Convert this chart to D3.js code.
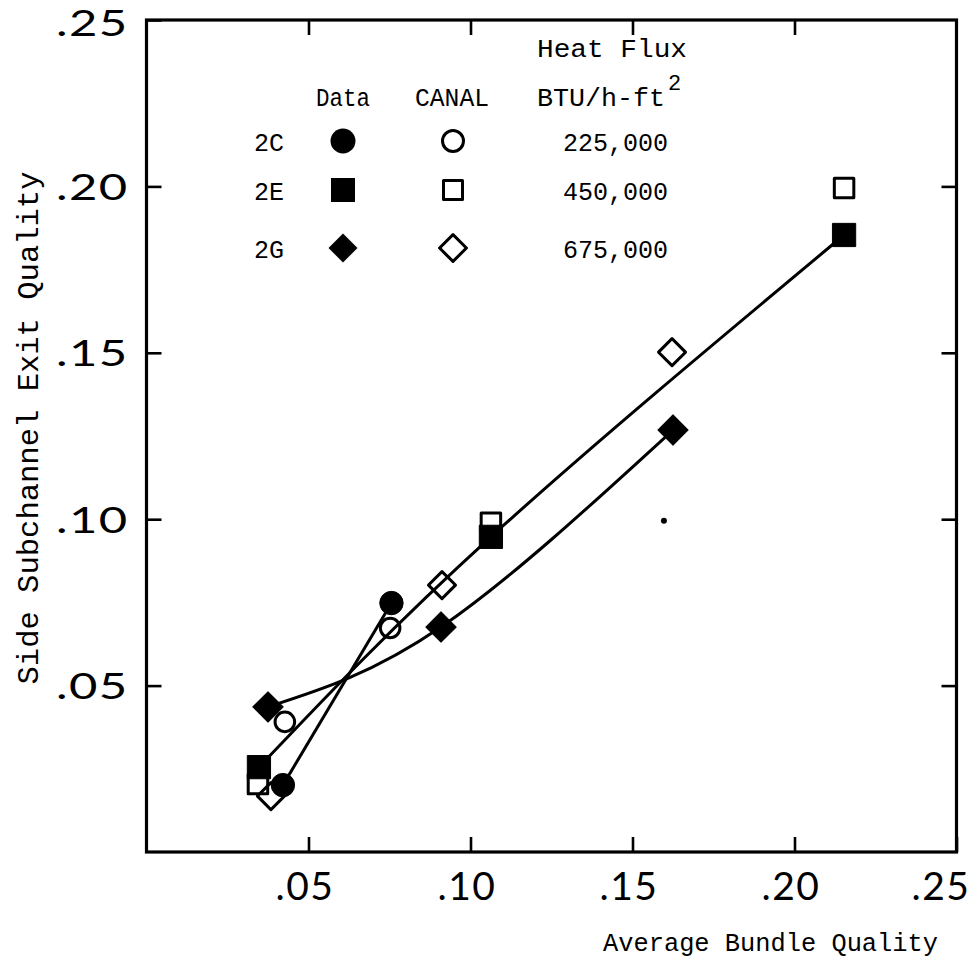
<!DOCTYPE html>
<html>
<head>
<meta charset="utf-8">
<script src="https://cdn.jsdelivr.net/npm/d3@7"></script>
<style>
  html, body { margin: 0; padding: 0; background: #fff; }
  svg { display: block; }
</style>
</head>
<body>
<svg id="chart" width="980" height="964"></svg>
<script>
// ---------- data ----------
const tickValues = [0.05, 0.10, 0.15, 0.20, 0.25];
const tickLabels = [".05", ".10", ".15", ".20", ".25"];

const seriesNames = ["2C", "2E", "2G"];
const heatFluxLabels = ["225,000", "450,000", "675,000"];

// measured (Data) and calculated (CANAL) points: [average bundle quality, side subchannel exit quality]
const data2C  = [[0.0421, 0.0201], [0.0756, 0.0748]];
const canal2C = [[0.0427, 0.0391], [0.0752, 0.0673]];
const data2E  = [[0.0347, 0.0255], [0.1063, 0.0947], [0.2153, 0.1854]];
const canal2E = [[0.0344, 0.0204], [0.1063, 0.0989], [0.2153, 0.1995]];
const data2G  = [[0.0375, 0.0436], [0.0909, 0.0676], [0.1625, 0.1268]];
const canal2G = [[0.0384, 0.0168], [0.0912, 0.0802], [0.1622, 0.1502]];

// stray specks on the original sheet
const specks = [[0.1597, 0.0995]];

// ---------- drawing ----------
const svg = d3.select("#chart");
const frame = { left: 146.5, right: 956.5, top: 20, bottom: 852 };

const x = d3.scaleLinear().domain([0, 0.25]).range([frame.left, frame.right]);
const y = d3.scaleLinear().domain([0, 0.25]).range([frame.bottom, frame.top]);

const mono = "'Liberation Mono', 'DejaVu Sans Mono', monospace";
const tickFont = "Lato, 'Noto Sans', sans-serif";
const fmt = d => tickLabels[tickValues.indexOf(d)];

// frame
svg.append("rect")
  .attr("x", frame.left).attr("y", frame.top)
  .attr("width", frame.right - frame.left).attr("height", frame.bottom - frame.top)
  .attr("fill", "none").attr("stroke", "#000").attr("stroke-width", 3.2);

function styleAxis(g) {
  g.select(".domain").remove();
  g.selectAll(".tick line").attr("stroke", "#000").attr("stroke-width", 2.6);
}

// bottom axis with labels
const gx = svg.append("g").attr("transform", `translate(0,${frame.bottom})`)
  .call(d3.axisBottom(x).tickValues(tickValues).tickSize(-15).tickFormat(fmt));
styleAxis(gx);
gx.selectAll(".tick text")
  .attr("y", 48).attr("dy", 0).attr("dx", d => d === 0.25 ? -16 : -4)
  .attr("font-family", tickFont).attr("font-size", 39).attr("letter-spacing", 1.5).attr("fill", "#000");

// top axis ticks only
const gxt = svg.append("g").attr("transform", `translate(0,${frame.top})`)
  .call(d3.axisTop(x).tickValues(tickValues.slice(0, 4)).tickSize(-15).tickFormat(""));
styleAxis(gxt);

// left axis with labels (horizontally stretched, as on the original)
const gy = svg.append("g").attr("transform", `translate(${frame.left},0)`)
  .call(d3.axisLeft(y).tickValues(tickValues).tickSize(-15).tickFormat(fmt));
styleAxis(gy);
gy.selectAll(".tick text")
  .attr("x", 0)
  .attr("transform", "translate(-18,0) scale(1.36,1)")
  .attr("dy", d => d === 0.25 ? "0.44em" : "0.36em")
  .attr("font-family", tickFont).attr("font-size", 36).attr("letter-spacing", 1).attr("fill", "#000");

// right axis ticks only
const gyr = svg.append("g").attr("transform", `translate(${frame.right},0)`)
  .call(d3.axisRight(y).tickValues(tickValues.slice(0, 4)).tickSize(-15).tickFormat(""));
styleAxis(gyr);

// axis titles
svg.append("text")
  .attr("x", 938).attr("y", 951).attr("text-anchor", "end")
  .attr("font-family", mono).attr("font-size", 26)
  .attr("textLength", 335).attr("lengthAdjust", "spacingAndGlyphs")
  .text("Average Bundle Quality");

svg.append("text")
  .attr("transform", "translate(38,428) rotate(-90)")
  .attr("text-anchor", "middle")
  .attr("font-family", mono).attr("font-size", 29)
  .attr("textLength", 513).attr("lengthAdjust", "spacingAndGlyphs")
  .text("Side Subchannel Exit Quality");

// fitted lines through the measured data
const lineGen = d3.line().x(d => x(d[0])).y(d => y(d[1])).curve(d3.curveNatural);
[data2C, data2E, data2G].forEach(s => {
  svg.append("path").attr("d", lineGen(s))
    .attr("fill", "none").attr("stroke", "#000").attr("stroke-width", 3);
});

// markers
const shapes = [d3.symbolCircle, d3.symbolSquare, d3.symbolSquare];
const rotations = [0, 0, 45];
const filledSize = [430, 540, 460];
const openSize = [300, 380, 365];

function drawMarkers(points, k, filled, sizeArr) {
  svg.append("g").selectAll("path").data(points).join("path")
    .attr("transform", d => `translate(${x(d[0])},${y(d[1])}) rotate(${rotations[k]})`)
    .attr("d", d3.symbol().type(shapes[k]).size(sizeArr[k]))
    .attr("fill", filled ? "#000" : "none")
    .attr("stroke", "#000")
    .attr("stroke-width", filled ? 1 : 3)
    .attr("stroke-linejoin", "round");
}
[canal2C, canal2E, canal2G].forEach((s, k) => drawMarkers(s, k, false, openSize));
[data2C, data2E, data2G].forEach((s, k) => drawMarkers(s, k, true, filledSize));

svg.append("g").selectAll("circle").data(specks).join("circle")
  .attr("cx", d => x(d[0])).attr("cy", d => y(d[1])).attr("r", 3).attr("fill", "#000");

// legend
const lg = svg.append("g").attr("font-family", mono).attr("font-size", 25).attr("fill", "#000");
lg.append("text").attr("x", 537).attr("y", 57).attr("textLength", 150).attr("lengthAdjust", "spacingAndGlyphs").text("Heat Flux");
lg.append("text").attr("x", 343).attr("y", 106).attr("text-anchor", "middle").attr("textLength", 54).attr("lengthAdjust", "spacingAndGlyphs").text("Data");
lg.append("text").attr("x", 452).attr("y", 106).attr("text-anchor", "middle").attr("textLength", 74).attr("lengthAdjust", "spacingAndGlyphs").text("CANAL");
lg.append("text").attr("x", 537).attr("y", 106).attr("textLength", 128).attr("lengthAdjust", "spacingAndGlyphs").text("BTU/h-ft");
lg.append("text").attr("x", 668).attr("y", 90).attr("font-size", 22).text("2");

const rowY = [141, 190, 248];
const legFilled = [490, 576, 420];
const legOpen = [346, 361, 361];
seriesNames.forEach((name, k) => {
  const cy = rowY[k];
  lg.append("text").attr("x", 254).attr("y", cy + 10).text(name);
  lg.append("path")
    .attr("transform", `translate(343,${cy}) rotate(${rotations[k]})`)
    .attr("d", d3.symbol().type(shapes[k]).size(legFilled[k]))
    .attr("fill", "#000");
  lg.append("path")
    .attr("transform", `translate(453,${cy}) rotate(${rotations[k]})`)
    .attr("d", d3.symbol().type(shapes[k]).size(legOpen[k]))
    .attr("fill", "none").attr("stroke", "#000").attr("stroke-width", 3).attr("stroke-linejoin", "round");
  lg.append("text").attr("x", 668).attr("y", cy + 10).attr("text-anchor", "end").text(heatFluxLabels[k]);
});
</script>
</body>
</html>
